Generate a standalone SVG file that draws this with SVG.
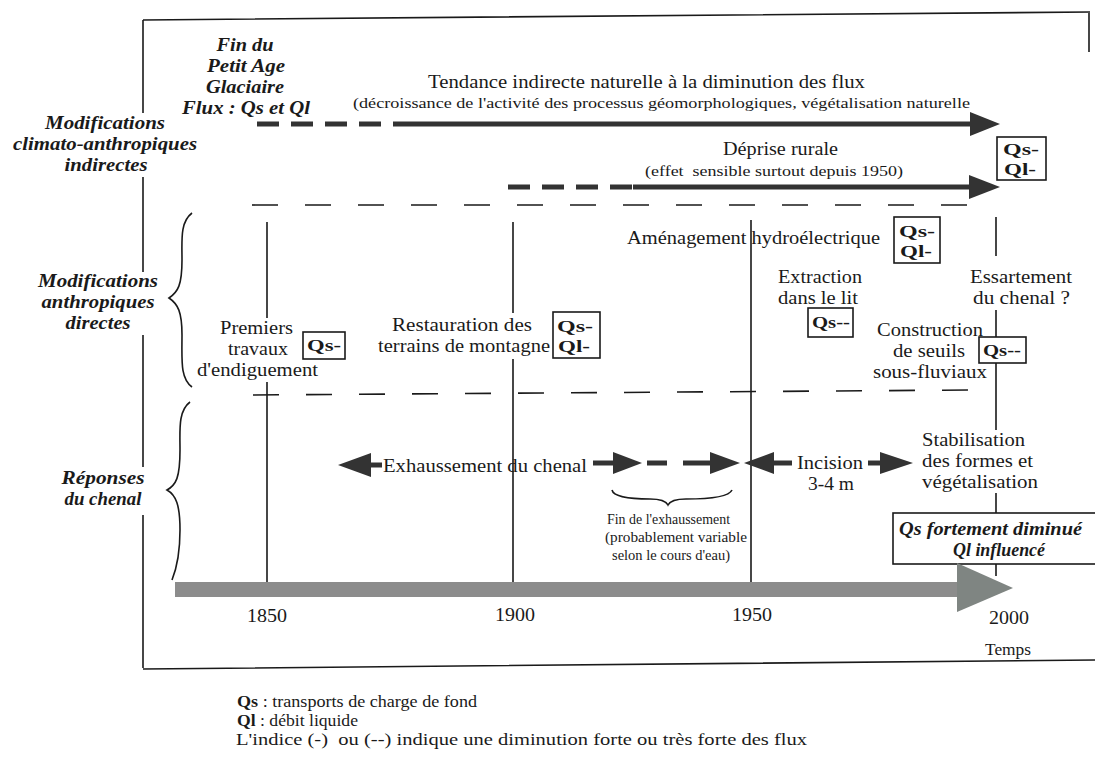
<svg xmlns="http://www.w3.org/2000/svg" width="1095" height="760" viewBox="0 0 1095 760" font-family="Liberation Serif, Times New Roman, serif">
<style>
text{font-family:Liberation Serif,Times New Roman,serif;fill:#1a1a1a}
.lab{font-size:18.5px}
.bi{font-size:18.5px;font-weight:bold;font-style:italic}
.sm{font-size:15px}
.xs{font-size:14.5px}
.q{font-size:17.5px;font-weight:bold}
.lg{font-size:16.5px}
.ln{stroke:#1a1a1a;stroke-width:1.6;fill:none}
.dash{stroke:#1a1a1a;stroke-width:1.6;stroke-dasharray:26 27;fill:none}
.thick{stroke:#333;stroke-width:5;fill:none}
.thickd{stroke:#333;stroke-width:5;stroke-dasharray:22 12;fill:none}
.box{fill:#fff;stroke:#1a1a1a;stroke-width:1.6}
.head{fill:#333}
.mid{text-anchor:middle}
</style>
<rect width="1095" height="760" fill="#fff"/>

<g id="frame">
<path class="ln" d="M143,20 L1090,12 M1089,13 L1089,52 M143,20 L143,113 M143,177 L143,272 M143,335 L143,467 M143,515 L143,668 M143,669 L1095,660"/>
</g>

<g id="row-labels">
<text class="bi mid" x="105" y="129" textLength="120" lengthAdjust="spacingAndGlyphs">Modifications</text>
<text class="bi mid" x="105" y="150" textLength="184" lengthAdjust="spacingAndGlyphs">climato-anthropiques</text>
<text class="bi mid" x="106" y="171" textLength="83" lengthAdjust="spacingAndGlyphs">indirectes</text>
<text class="bi mid" x="98" y="287" textLength="120" lengthAdjust="spacingAndGlyphs">Modifications</text>
<text class="bi mid" x="98" y="308" textLength="113" lengthAdjust="spacingAndGlyphs">anthropiques</text>
<text class="bi mid" x="98" y="329" textLength="65" lengthAdjust="spacingAndGlyphs">directes</text>
<text class="bi mid" x="103" y="484" textLength="83" lengthAdjust="spacingAndGlyphs">Réponses</text>
<text class="bi mid" x="103" y="505" textLength="77" lengthAdjust="spacingAndGlyphs">du chenal</text>
<path class="ln" d="M192,213 C180,222 182,240 182,260 C182,285 178,292 169,298 C178,304 182,312 182,335 C182,360 180,378 192,387"/>
<path class="ln" d="M190,402 C178,411 180,430 180,450 C180,478 176,485 167,490 C176,495 180,505 180,530 C180,555 176,570 172,580"/>
</g>

<g id="fin-pag">
<text class="bi mid" x="245" y="51" textLength="57" lengthAdjust="spacingAndGlyphs">Fin du</text>
<text class="bi mid" x="246" y="72" textLength="78" lengthAdjust="spacingAndGlyphs">Petit Age</text>
<text class="bi mid" x="245" y="93" textLength="78" lengthAdjust="spacingAndGlyphs">Glaciaire</text>
<text class="bi mid" x="246" y="114" textLength="128" lengthAdjust="spacingAndGlyphs">Flux : Qs et Ql</text>
</g>

<g id="grid">
<path class="dash" d="M252,205 L975,205"/>
<path class="dash" d="M253,395 L975,390"/>
<path class="ln" d="M267,222 L267,318 M267,382 L267,582 M513,222 L513,313 M513,359 L513,582 M751,220 L751,582 M996,217 L996,256 M996,310 L996,430 M996,493 L996,513 M996,564 L996,576"/>
</g>

<g id="tendance">
<text class="lab" x="428" y="88" textLength="437" lengthAdjust="spacingAndGlyphs">Tendance indirecte naturelle à la diminution des flux</text>
<text class="sm" x="353" y="108" textLength="617" lengthAdjust="spacingAndGlyphs">(décroissance de l'activité des processus géomorphologiques, végétalisation naturelle</text>
</g>

<g id="deprise">
<text class="lab" x="723" y="155" textLength="115" lengthAdjust="spacingAndGlyphs">Déprise rurale</text>
<text class="sm" x="645" y="176" xml:space="preserve" textLength="258" lengthAdjust="spacingAndGlyphs">(effet  sensible surtout depuis 1950)</text>
</g>

<g id="box-top">
<rect class="box" x="997" y="137" width="49" height="43"/>
<text class="q" x="1003" y="155" textLength="36" lengthAdjust="spacingAndGlyphs">Qs-</text>
<text class="q" x="1004" y="175" textLength="32" lengthAdjust="spacingAndGlyphs">Ql-</text>
</g>

<g id="amenagement">
<text class="lab" x="627" y="244" textLength="253" lengthAdjust="spacingAndGlyphs">Aménagement hydroélectrique</text>
<rect class="box" x="894" y="217" width="46" height="46"/>
<text class="q" x="899" y="237" textLength="36" lengthAdjust="spacingAndGlyphs">Qs-</text>
<text class="q" x="900" y="257" textLength="32" lengthAdjust="spacingAndGlyphs">Ql-</text>
</g>

<g id="extraction">
<text class="lab" x="778" y="283" textLength="84" lengthAdjust="spacingAndGlyphs">Extraction</text>
<text class="lab" x="778" y="304" textLength="80" lengthAdjust="spacingAndGlyphs">dans le lit</text>
<rect class="box" x="808" y="308" width="45" height="29"/>
<text class="q" x="812" y="328" textLength="38" lengthAdjust="spacingAndGlyphs">Qs--</text>
</g>

<g id="essartement">
<text class="lab" x="970" y="283" textLength="102" lengthAdjust="spacingAndGlyphs">Essartement</text>
<text class="lab" x="973" y="304" textLength="97" lengthAdjust="spacingAndGlyphs">du chenal ?</text>
</g>

<g id="construction">
<text class="lab" x="877" y="336" textLength="106" lengthAdjust="spacingAndGlyphs">Construction</text>
<text class="lab" x="893" y="357" textLength="72" lengthAdjust="spacingAndGlyphs">de seuils</text>
<text class="lab" x="873" y="378" textLength="114" lengthAdjust="spacingAndGlyphs">sous-fluviaux</text>
<rect class="box" x="979" y="337" width="47" height="26"/>
<text class="q" x="983" y="356" textLength="38" lengthAdjust="spacingAndGlyphs">Qs--</text>
</g>

<g id="premiers">
<text class="lab" x="220" y="334" textLength="73" lengthAdjust="spacingAndGlyphs">Premiers</text>
<text class="lab" x="228" y="355" textLength="60" lengthAdjust="spacingAndGlyphs">travaux</text>
<text class="lab" x="197" y="376" textLength="121" lengthAdjust="spacingAndGlyphs">d'endiguement</text>
<rect class="box" x="303" y="332" width="42" height="27"/>
<text class="q" x="307" y="351" textLength="34" lengthAdjust="spacingAndGlyphs">Qs-</text>
</g>

<g id="restauration">
<text class="lab" x="392" y="331" textLength="140" lengthAdjust="spacingAndGlyphs">Restauration des</text>
<text class="lab" x="378" y="352" textLength="172" lengthAdjust="spacingAndGlyphs">terrains de montagne</text>
<rect class="box" x="553" y="312" width="47" height="46"/>
<text class="q" x="557" y="332" textLength="36" lengthAdjust="spacingAndGlyphs">Qs-</text>
<text class="q" x="558" y="352" textLength="32" lengthAdjust="spacingAndGlyphs">Ql-</text>
</g>

<g id="reponses">
<text class="lab" x="383" y="472" textLength="204" lengthAdjust="spacingAndGlyphs">Exhaussement du chenal</text>
<text class="lab" x="797" y="469" textLength="66" lengthAdjust="spacingAndGlyphs">Incision</text>
<text class="lab" x="808" y="490" textLength="46" lengthAdjust="spacingAndGlyphs">3-4 m</text>
<text class="lab" x="922" y="446" textLength="103" lengthAdjust="spacingAndGlyphs">Stabilisation</text>
<text class="lab" x="922" y="467" textLength="111" lengthAdjust="spacingAndGlyphs">des formes et</text>
<text class="lab" x="922" y="488" textLength="116" lengthAdjust="spacingAndGlyphs">végétalisation</text>
<path class="ln" d="M612,490 Q614,499 650,499 Q665,499 668,505 Q671,499 686,499 Q728,499 732,490"/>
<text class="xs" x="607" y="524" textLength="123" lengthAdjust="spacingAndGlyphs">Fin de l'exhaussement</text>
<text class="xs" x="605" y="542" textLength="142" lengthAdjust="spacingAndGlyphs">(probablement variable</text>
<text class="xs" x="612" y="560" textLength="118" lengthAdjust="spacingAndGlyphs">selon le cours d'eau)</text>
</g>

<g id="bilan">
<rect class="box" x="893" y="513" width="204" height="51"/>
<text class="bi" x="899" y="535" textLength="183" lengthAdjust="spacingAndGlyphs">Qs fortement diminué</text>
<text class="bi" x="953" y="556" textLength="92" lengthAdjust="spacingAndGlyphs">Ql influencé</text>
</g>

<g id="connectors">
<path class="thickd" d="M257,124 L395,124"/>
<path class="thick" d="M395,124 L974,124"/>
<polygon class="head" points="970,112 1000,124 970,136"/>
<path class="thickd" d="M508,187 L633,187"/>
<path class="thick" d="M633,187 L972,187"/>
<polygon class="head" points="969,175 1000,187 969,199"/>
<path class="thick" d="M368,465 L382,465"/>
<polygon class="head" points="338,465 371,453 371,477"/>
<path class="thick" d="M593,463 L616,463"/>
<polygon class="head" points="613,452 642,463 613,474"/>
<path class="thick" d="M647,463 L667,463 M683,463 L712,463"/>
<polygon class="head" points="710,452 740,463 710,474"/>
<polygon class="head" points="744,463 774,452 774,474"/>
<path class="thick" d="M772,463 L792,463"/>
<path class="thick" d="M868,463 L884,463"/>
<polygon class="head" points="880,452 913,463 880,474"/>
</g>

<g id="axis">
<rect x="175" y="582" width="785" height="15" fill="#8c8c8c"/>
<polygon points="957,563 1013,588 957,612" fill="#7f8582"/>
<text class="lab mid" x="267" y="622" textLength="40" lengthAdjust="spacingAndGlyphs">1850</text>
<text class="lab mid" x="515" y="621" textLength="40" lengthAdjust="spacingAndGlyphs">1900</text>
<text class="lab mid" x="752" y="621" textLength="40" lengthAdjust="spacingAndGlyphs">1950</text>
<text class="lab mid" x="1009" y="624" textLength="40" lengthAdjust="spacingAndGlyphs">2000</text>
<text class="mid" x="1008" y="655" font-size="17" textLength="46" lengthAdjust="spacingAndGlyphs">Temps</text>
</g>

<g id="legend">
<text class="lg" x="237" y="707" textLength="240" lengthAdjust="spacingAndGlyphs"><tspan font-weight="bold">Qs</tspan> : transports de charge de fond</text>
<text class="lg" x="237" y="726" textLength="121" lengthAdjust="spacingAndGlyphs"><tspan font-weight="bold">Ql</tspan> : débit liquide</text>
<text class="lg" x="236" y="745" xml:space="preserve" textLength="571" lengthAdjust="spacingAndGlyphs">L'indice (-)  ou (--) indique une diminution forte ou très forte des flux</text>
</g>
</svg>
